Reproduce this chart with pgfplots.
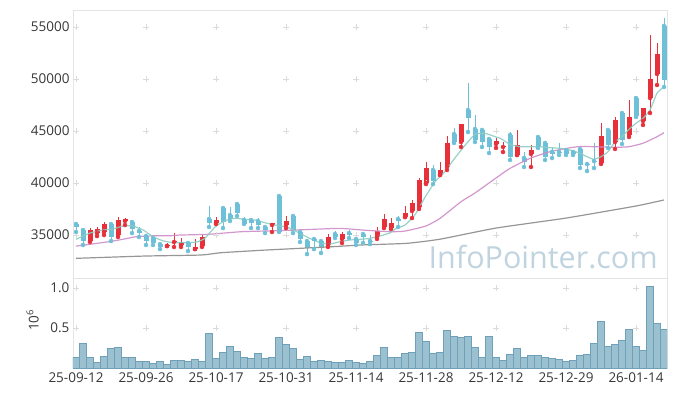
\documentclass[border=0pt]{standalone}
\usepackage{pgfplots}
\pgfplotsset{compat=1.18}
\usepackage{pgfplotstable}
\usepackage{fontspec}
\setmainfont{Open Sans}
\definecolor{upc}{RGB}{232,48,58}
\definecolor{dnc}{RGB}{110,192,216}
\definecolor{maA}{RGB}{140,205,195}
\definecolor{maB}{RGB}{205,140,200}
\definecolor{maC}{RGB}{150,150,150}
\definecolor{volf}{RGB}{155,192,208}
\definecolor{vold}{RGB}{110,160,185}
\definecolor{frm}{RGB}{228,228,228}
\definecolor{wm}{RGB}{192,212,224}
\definecolor{txt}{RGB}{55,55,55}

\pgfplotstableread{
i o h l c v
0 36060 36060 35290 35770 0.133
1 35480 35480 34040 34420 0.308
2 34420 35670 34330 35480 0.133
3 35190 35770 34900 35580 0.071
4 35290 36250 35000 36060 0.146
5 36060 36060 34420 34810 0.246
6 35000 36730 34810 36440 0.258
7 36350 36630 35960 36540 0.133
8 36250 36250 35190 35580 0.133
9 35380 35770 34810 35190 0.083
10 34900 35000 34040 34420 0.083
11 34710 34710 34040 34230 0.058
12 34130 34230 33650 33850 0.083
13 33940 34230 33940 34040 0.046
14 34330 35190 33850 34420 0.096
15 34040 34710 33850 34330 0.096
16 34230 34230 33460 33850 0.083
17 33650 34620 33650 33850 0.108
18 33940 35000 33850 34810 0.083
19 36540 37790 35770 36150 0.433
20 36150 36730 36060 36440 0.121
21 37600 37600 35670 36250 0.196
22 36920 37690 36350 36540 0.271
23 37980 37980 36830 37120 0.208
24 36440 36730 36060 36060 0.133
25 36440 36630 35670 36150 0.121
26 36350 36630 35670 35960 0.183
27 35770 35770 35190 35480 0.121
28 35960 36150 35290 36150 0.133
29 38750 38750 35290 35290 0.383
30 35960 36830 35670 36350 0.296
31 36830 36830 35190 35380 0.246
32 35290 35380 34330 34620 0.108
33 34420 34620 33170 33750 0.146
34 34620 34810 33650 34420 0.083
35 34420 34420 33270 33850 0.096
36 34040 35100 33850 34810 0.083
37 35100 35380 34710 34810 0.075
38 34620 35290 34230 35100 0.071
39 35190 35480 34710 35000 0.096
40 34620 35190 34040 34230 0.071
41 35100 35190 34230 34810 0.058
42 34420 35000 34130 34330 0.083
43 34810 35770 34620 35380 0.158
44 35770 37020 35670 36540 0.258
45 35670 36630 35580 36150 0.133
46 36540 36830 35770 36350 0.133
47 36730 37790 36730 37120 0.183
48 37310 38370 36630 38080 0.196
49 37690 40480 37500 40290 0.446
50 40000 42020 39900 41440 0.333
51 41250 41730 39900 40190 0.183
52 40770 42020 40770 41250 0.196
53 41540 44520 41250 43850 0.471
54 44710 45290 43850 43940 0.396
55 43940 45670 43460 45670 0.383
56 47020 49620 44900 46250 0.396
57 45190 46540 43940 44130 0.258
58 45100 45290 43460 43940 0.133
59 44230 44230 42880 43460 0.396
60 43750 44330 43370 44040 0.133
61 43460 43940 42980 43560 0.096
62 44620 44900 42210 42500 0.171
63 42690 45100 42690 43650 0.246
64 42400 42980 41540 42020 0.133
65 42790 43650 41540 43170 0.158
66 44420 44420 43370 43560 0.158
67 43850 43940 42210 42500 0.133
68 43000 43460 42400 42790 0.121
69 43000 43850 42690 42900 0.108
70 43170 43370 42690 42790 0.083
71 42980 43070 42690 42790 0.096
72 43270 43270 41440 41730 0.158
73 41830 41920 41150 41730 0.171
74 42110 43850 41440 42020 0.308
75 41920 45770 41830 44520 0.583
76 45100 45100 43370 43650 0.271
77 43940 46350 43270 46060 0.296
78 46730 46730 43750 44130 0.346
79 44620 47980 44420 46350 0.483
80 48170 48270 46350 46440 0.271
81 45960 47210 45580 47210 0.221
82 48170 54230 46730 50000 1.025
83 50480 53460 49420 52400 0.558
84 55100 55870 49230 49900 0.483
}\candles

\pgfplotstableread{
i p
0 34590
2 35190
3.9 35480
5.3 35580
6.7 35870
8.1 35870
9.6 35480
11 34840
12.4 34450
13.9 34260
16 34260
17.4 34360
18.4 34680
19.9 35800
21.3 36380
22.7 36610
24.1 36510
25.6 36440
27 36180
28.4 35960
29.9 35800
30.6 35640
32 35160
33.4 34680
34.9 34260
36.3 34140
37.7 34360
39.1 34520
40.6 34590
42 34680
43.4 34900
44.9 35220
45.6 35580
47 35960
48.4 36920
49.1 37720
49.9 38680
51.3 40130
52.7 41090
54.1 42380
55.6 43650
57 44680
58.4 44780
59.9 44450
60.6 44300
62 43720
63.4 43490
64.9 43490
66.3 43490
67.7 43390
69.1 43340
70.6 43170
72 42860
73 42530
74 42280
75 42530
76 43010
77 43970
78 44450
79 45160
80 45740
81 46220
82 47020
83 48630
84 49260
}\maA

\pgfplotstableread{
i p
0 33940
2 34110
4.7 34360
6.7 34590
8.6 34840
11 34930
13.4 34930
14.9 35000
18.9 35070
23.6 35320
28.4 35410
33.9 35550
37.7 35640
40.9 35480
44.9 35320
47 35380
50 35870
52 36600
55 38200
57 39040
60 40480
62 41410
64.9 42380
67.7 43010
70.6 43390
72 43510
74 43490
77 43430
79 43490
81 43820
83 44450
84 44840
}\maB

\pgfplotstableread{
i p
0 32760
9.8 32980
17.9 33080
20.7 33300
27.2 33560
36.7 33880
40.6 34040
47.2 34200
52 34600
60 35670
70 36630
80 37790
84 38370
}\maC

\pgfplotsset{
  every axis/.append style={
    scale only axis, width=594pt,
    xmin=-0.43, xmax=84.43,
    axis line style={frm},
    major tick length=0pt,
    tick style={draw=none},
    ticklabel style={font=\fontsize{13.5}{15}\selectfont, text=txt},
    /pgf/number format/assume math mode=true,
    /pgf/number format/1000 sep={},
    scaled y ticks=false,
    xtick={0,10,...,80},
  }
}

\begin{document}
\begin{tikzpicture}
\path[use as bounding box] (-73pt,10pt) rectangle (604pt,-386pt);
\begin{axis}[
  at={(0,0)}, anchor=north west,
  height=268pt,
  ymin=30870, ymax=56630,
  ytick={35000,40000,45000,50000,55000},
  yticklabel style={/pgf/number format/fixed, /pgf/number format/precision=0},
  xticklabels={},
  clip=true,
]
\pgfplotsinvokeforeach{0,10,20,30,40,50,60,70,80}{
  \addplot[only marks, mark=+, mark size=3pt, black!14, line width=0.8pt] coordinates {(#1,35000)(#1,40000)(#1,45000)(#1,50000)(#1,55000)};
}
\node[text=wm, font=\fontsize{30.5}{30}\selectfont, anchor=base east] at (axis cs:83.6,31830) {InfoPointer.com};
% wicks
\addplot[upc, only marks, mark=none, restrict expr to domain={\thisrow{c}-\thisrow{o}}{0:100000},
  error bars/.cd, y dir=both, y explicit, error mark=none, error bar style={upc, line width=1pt}]
  table[x=i, y=l, y error plus expr={\thisrow{h}-\thisrow{l}}, y error minus expr={0}] {\candles};
\addplot[dnc, only marks, mark=none, restrict expr to domain={\thisrow{o}-\thisrow{c}}{1:100000},
  error bars/.cd, y dir=both, y explicit, error mark=none, error bar style={dnc, line width=1pt}]
  table[x=i, y=l, y error plus expr={\thisrow{h}-\thisrow{l}}, y error minus expr={0}] {\candles};
% bodies
\addplot[upc, only marks, mark=none, restrict expr to domain={\thisrow{c}-\thisrow{o}}{0:100000},
  error bars/.cd, y dir=both, y explicit, error mark=none, error bar style={upc, line width=5pt}]
  table[x=i, y=o, y error plus expr={max(\thisrow{c}-\thisrow{o},100)}, y error minus expr={0}] {\candles};
\addplot[dnc, only marks, mark=none, restrict expr to domain={\thisrow{o}-\thisrow{c}}{1:100000},
  error bars/.cd, y dir=both, y explicit, error mark=none, error bar style={dnc, line width=5pt}]
  table[x=i, y=o, y error plus expr={0}, y error minus expr={max(\thisrow{o}-\thisrow{c},100)}] {\candles};
% moving averages
\addplot[maC, line width=1.2pt, mark=none, smooth, tension=0.3] table[x=i, y=p] {\maC};
\addplot[maB, line width=1.2pt, mark=none, smooth, tension=0.3, opacity=0.9] table[x=i, y=p] {\maB};
\addplot[maA, line width=1.2pt, mark=none, smooth, tension=0.3, opacity=0.9] table[x=i, y=p] {\maA};
\end{axis}

\begin{axis}[
  at={(0,-268pt)}, anchor=north west,
  height=90pt,
  ymin=0, ymax=1.125,
  ytick={0.5,1.0},
  yticklabel style={/pgf/number format/fixed, /pgf/number format/precision=1, /pgf/number format/fixed zerofill},
  xticklabels={25-09-12,25-09-26,25-10-17,25-10-31,25-11-14,25-11-28,25-12-12,25-12-29,26-01-14},
  xticklabel style={yshift=-1pt},
  ylabel={10\textsuperscript{6}},
  ylabel style={at={(axis description cs:-0.068,0.53)}, anchor=center, font=\fontsize{13.5}{15}\selectfont, text=txt},
]
\pgfplotsinvokeforeach{0,10,20,30,40,50,60,70,80}{
  \addplot[only marks, mark=+, mark size=3pt, black!14, line width=0.8pt] coordinates {(#1,0.5)(#1,1.0)};
}
\addplot[ybar, bar width=1, fill=volf, draw=vold, line width=0.6pt] table[x=i, y=v] {\candles};
\end{axis}
\end{tikzpicture}
\end{document}
